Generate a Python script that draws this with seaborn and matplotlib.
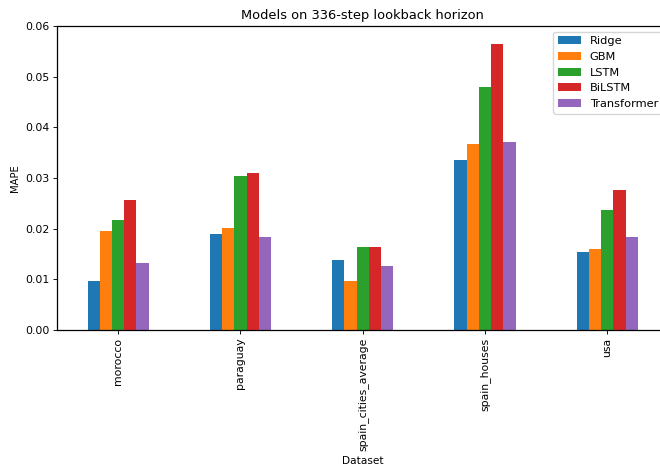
import matplotlib
matplotlib.use("Agg")
import matplotlib.pyplot as plt
import seaborn as sns
import pandas as pd

datasets = ["morocco", "paraguay", "spain_cities_average", "spain_houses", "usa"]
models = ["Ridge", "GBM", "LSTM", "BiLSTM", "Transformer"]
ridge = [0.0097, 0.0189, 0.0138, 0.0336, 0.0153]
gbm = [0.0195, 0.0201, 0.0097, 0.0368, 0.0160]
lstm = [0.0217, 0.0303, 0.0164, 0.0480, 0.0236]
bilstm = [0.0257, 0.0309, 0.0164, 0.0564, 0.0276]
transformer = [0.0132, 0.0183, 0.0127, 0.0371, 0.0183]

series = {"Ridge": ridge, "GBM": gbm, "LSTM": lstm, "BiLSTM": bilstm, "Transformer": transformer}
rows = []
for m in models:
    for d, v in zip(datasets, series[m]):
        rows.append({"Dataset": d, "Model": m, "MAPE": v})
df = pd.DataFrame(rows)

colors = ["#1f77b4", "#ff7f0e", "#2ca02c", "#d62728", "#9467bd"]

s = 0.8
plt.rcParams.update({
    "font.size": 7.8,
    "axes.linewidth": 0.9,
    "xtick.major.size": 3.5 * s,
    "ytick.major.size": 3.5 * s,
    "xtick.major.width": 0.8 * s,
    "ytick.major.width": 0.8 * s,
    "xtick.major.pad": 3.5 * s,
    "ytick.major.pad": 3.5 * s,
    "axes.labelpad": 4.0 * s,
})

fig = plt.figure(figsize=(6.6, 4.68), dpi=100)
ax = fig.add_axes([57 / 660, 138 / 468, 611.5 / 660, 304 / 468])
sns.barplot(data=df, x="Dataset", y="MAPE", hue="Model", order=datasets,
            hue_order=models, palette=colors, saturation=1, width=0.5,
            linewidth=0, errorbar=None, ax=ax)
ax.set_xlim(-0.5, 4.5)
ax.set_ylim(0, 0.06)
yt = [0, 0.01, 0.02, 0.03, 0.04, 0.05, 0.06]
ax.set_yticks(yt)
ax.set_yticklabels([f"{t:.2f}" for t in yt])
ax.tick_params(axis="x", labelrotation=90)
ax.set_title("Models on 336-step lookback horizon", fontsize=9.4, pad=5)
ax.set_xlabel("Dataset", fontsize=7.6)
ax.set_ylabel("MAPE", fontsize=7.2)
ax.legend(loc="upper right", title=None, fontsize=8.2)
fig.savefig("out.png", dpi=100)
